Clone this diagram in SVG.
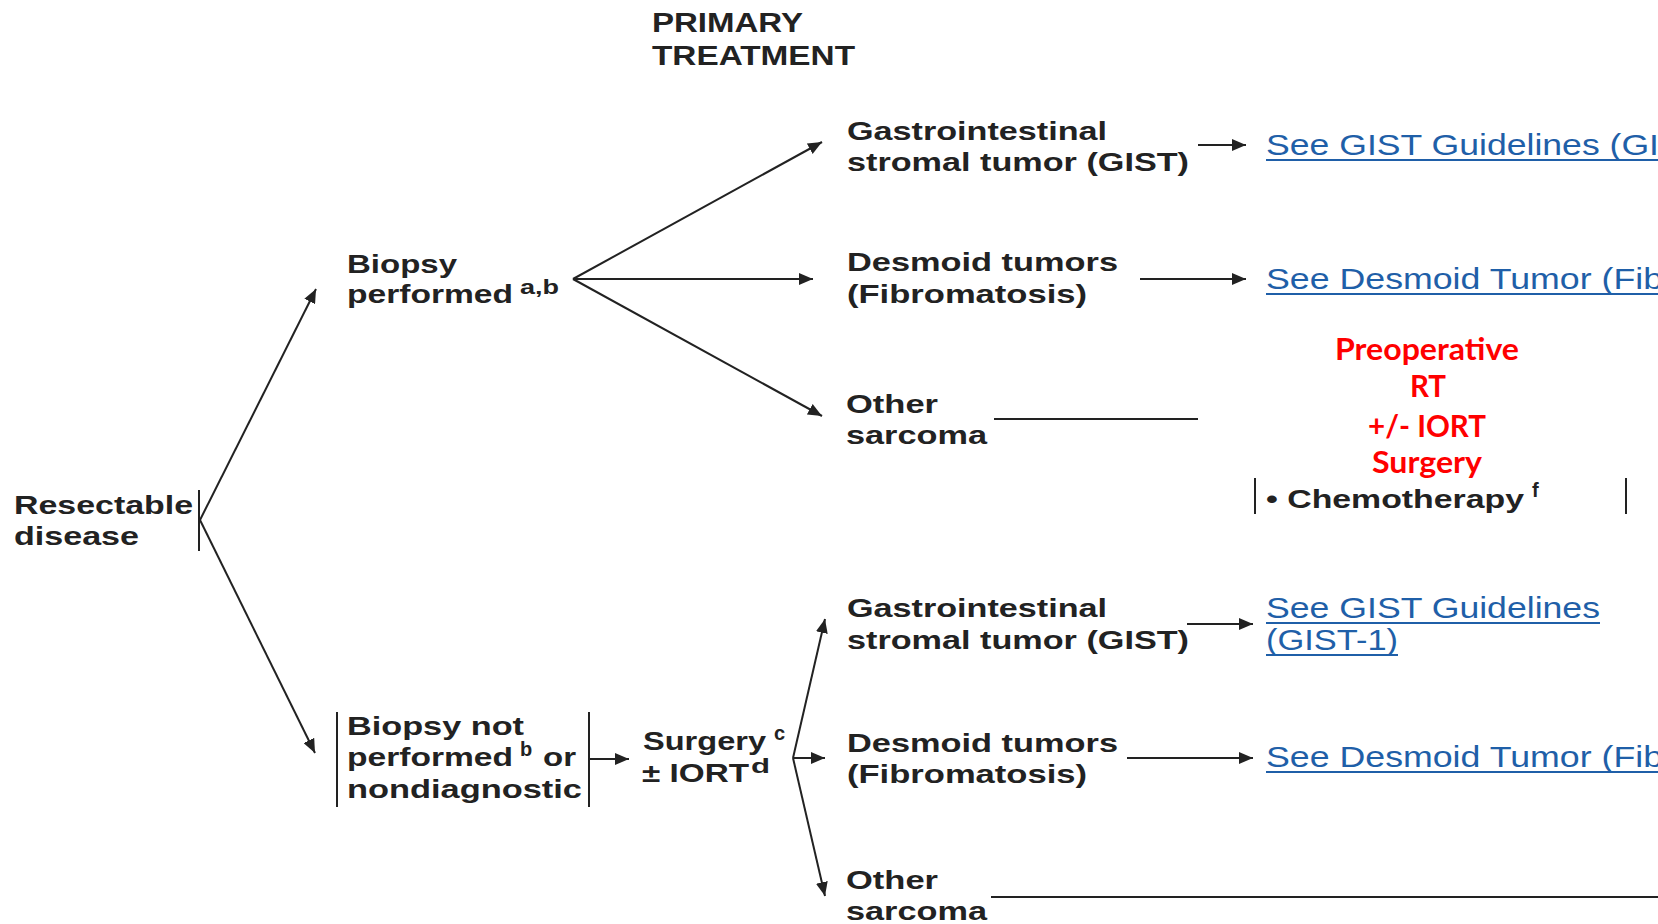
<svg xmlns="http://www.w3.org/2000/svg" width="1658" height="924" viewBox="0 0 1658 924">
<style>
.t{font-family:"Liberation Sans",Arial,sans-serif;font-weight:bold;font-size:25.5px;fill:#222}
.sup{font-family:"Liberation Sans",Arial,sans-serif;font-weight:bold;font-size:20px;fill:#222}
.h{font-family:"Liberation Sans",Arial,sans-serif;font-weight:bold;font-size:27px;fill:#222}
.lk{font-family:"Liberation Sans",Arial,sans-serif;font-size:29.5px;fill:#1F5FA8}
.ul{stroke:#1F5FA8;stroke-width:2}
.red{font-family:Lato,"Open Sans",sans-serif;font-weight:bold;font-size:29.5px;fill:#FF0000;text-anchor:middle}
.ln{stroke:#222;stroke-width:2;fill:none}
.ar{stroke:#222;stroke-width:2;fill:none;marker-end:url(#ah)}
</style>
<defs>
<marker id="ah" markerUnits="userSpaceOnUse" markerWidth="16" markerHeight="12" refX="14" refY="6" orient="auto">
<path d="M0,0 L14,6 L0,12 z" fill="#222"/>
</marker>
</defs>
<rect width="1658" height="924" fill="#fff"/>

<g id="title">
<text class="h" x="652" y="32" textLength="151" lengthAdjust="spacingAndGlyphs">PRIMARY</text>
<text class="h" x="652" y="65" textLength="203" lengthAdjust="spacingAndGlyphs">TREATMENT</text>
</g>

<g id="resectable">
<text class="t" x="14" y="514" textLength="179" lengthAdjust="spacingAndGlyphs">Resectable</text>
<text class="t" x="14" y="545" textLength="125" lengthAdjust="spacingAndGlyphs">disease</text>
</g>

<g id="biopsy-performed">
<text class="t" x="347" y="273" textLength="110" lengthAdjust="spacingAndGlyphs">Biopsy</text>
<text class="t" x="347" y="303" textLength="166" lengthAdjust="spacingAndGlyphs">performed</text>
<text class="sup" x="520" y="294" textLength="39" lengthAdjust="spacingAndGlyphs">a,b</text>
</g>

<g id="gist-top">
<text class="t" x="847" y="140" textLength="260" lengthAdjust="spacingAndGlyphs">Gastrointestinal</text>
<text class="t" x="847" y="171" textLength="342" lengthAdjust="spacingAndGlyphs">stromal tumor (GIST)</text>
</g>

<g id="desmoid-top">
<text class="t" x="847" y="271" textLength="271" lengthAdjust="spacingAndGlyphs">Desmoid tumors</text>
<text class="t" x="847" y="303" textLength="240" lengthAdjust="spacingAndGlyphs">(Fibromatosis)</text>
</g>

<g id="other-top">
<text class="t" x="846" y="413" textLength="92" lengthAdjust="spacingAndGlyphs">Other</text>
<text class="t" x="846" y="444" textLength="141" lengthAdjust="spacingAndGlyphs">sarcoma</text>
</g>

<g id="link-gist-top">
<text class="lk" x="1266" y="155" textLength="393" lengthAdjust="spacingAndGlyphs">See GIST Guidelines (GI</text>
<line class="ul" x1="1266" y1="160" x2="1658" y2="160"/>
</g>

<g id="link-desmoid-top">
<text class="lk" x="1266" y="289" textLength="397" lengthAdjust="spacingAndGlyphs">See Desmoid Tumor (Fib</text>
<line class="ul" x1="1266" y1="294" x2="1658" y2="294"/>
</g>

<g id="preop">
<text class="red" x="1427" y="360" textLength="184" lengthAdjust="spacingAndGlyphs">Preoperative</text>
<text class="red" x="1428" y="397">RT</text>
<text class="red" x="1427" y="437" textLength="118" lengthAdjust="spacingAndGlyphs">+/- IORT</text>
<text class="red" x="1427" y="473" textLength="110" lengthAdjust="spacingAndGlyphs">Surgery</text>
</g>

<g id="chemo">
<line class="ln" x1="1255" y1="478" x2="1255" y2="514"/>
<text class="t" x="1266" y="508" textLength="258" lengthAdjust="spacingAndGlyphs">• Chemotherapy</text>
<text class="sup" x="1532" y="497">f</text>
<line class="ln" x1="1626" y1="478" x2="1626" y2="514"/>
</g>

<g id="biopsy-not">
<line class="ln" x1="337" y1="712" x2="337" y2="807"/>
<text class="t" x="347" y="735" textLength="177" lengthAdjust="spacingAndGlyphs">Biopsy not</text>
<text class="t" x="347" y="766" textLength="166" lengthAdjust="spacingAndGlyphs">performed</text>
<text class="sup" x="520" y="756">b</text>
<text class="t" x="543" y="766" textLength="33" lengthAdjust="spacingAndGlyphs">or</text>
<text class="t" x="347" y="798" textLength="235" lengthAdjust="spacingAndGlyphs">nondiagnostic</text>
<line class="ln" x1="589" y1="712" x2="589" y2="807"/>
</g>

<g id="surgery">
<text class="t" x="643" y="750" textLength="123" lengthAdjust="spacingAndGlyphs">Surgery</text>
<text class="sup" x="774" y="740">c</text>
<text class="t" x="642" y="782" textLength="107" lengthAdjust="spacingAndGlyphs">± IORT</text>
<text class="sup" x="751" y="773" textLength="19" lengthAdjust="spacingAndGlyphs">d</text>
</g>

<g id="gist-bottom">
<text class="t" x="847" y="617" textLength="260" lengthAdjust="spacingAndGlyphs">Gastrointestinal</text>
<text class="t" x="847" y="649" textLength="342" lengthAdjust="spacingAndGlyphs">stromal tumor (GIST)</text>
</g>

<g id="desmoid-bottom">
<text class="t" x="847" y="752" textLength="271" lengthAdjust="spacingAndGlyphs">Desmoid tumors</text>
<text class="t" x="847" y="783" textLength="240" lengthAdjust="spacingAndGlyphs">(Fibromatosis)</text>
</g>

<g id="other-bottom">
<text class="t" x="846" y="889" textLength="92" lengthAdjust="spacingAndGlyphs">Other</text>
<text class="t" x="846" y="920" textLength="141" lengthAdjust="spacingAndGlyphs">sarcoma</text>
</g>

<g id="link-gist-bottom">
<text class="lk" x="1266" y="618" textLength="334" lengthAdjust="spacingAndGlyphs">See GIST Guidelines</text>
<line class="ul" x1="1266" y1="623" x2="1600" y2="623"/>
<text class="lk" x="1266" y="650" textLength="132" lengthAdjust="spacingAndGlyphs">(GIST-1)</text>
<line class="ul" x1="1266" y1="655" x2="1398" y2="655"/>
</g>

<g id="link-desmoid-bottom">
<text class="lk" x="1266" y="767" textLength="397" lengthAdjust="spacingAndGlyphs">See Desmoid Tumor (Fib</text>
<line class="ul" x1="1266" y1="772" x2="1658" y2="772"/>
</g>

<g id="connectors">
<line class="ln" x1="199" y1="490" x2="199" y2="551"/>
<line class="ar" x1="200" y1="520" x2="316" y2="289"/>
<line class="ar" x1="200" y1="520" x2="315" y2="753"/>
<line class="ar" x1="573" y1="279" x2="822" y2="142"/>
<line class="ar" x1="573" y1="279" x2="813" y2="279"/>
<line class="ar" x1="573" y1="279" x2="822" y2="416"/>
<line class="ar" x1="1198" y1="145" x2="1246" y2="145"/>
<line class="ar" x1="1140" y1="279" x2="1246" y2="279"/>
<line class="ln" x1="994" y1="419" x2="1198" y2="419"/>
<line class="ar" x1="589" y1="759" x2="629" y2="759"/>
<line class="ar" x1="793" y1="758" x2="825" y2="619"/>
<line class="ar" x1="793" y1="758" x2="825" y2="758"/>
<line class="ar" x1="793" y1="758" x2="825" y2="896"/>
<line class="ar" x1="1187" y1="624" x2="1253" y2="624"/>
<line class="ar" x1="1127" y1="758" x2="1253" y2="758"/>
<line class="ln" x1="991" y1="897" x2="1658" y2="897"/>
</g>
</svg>
